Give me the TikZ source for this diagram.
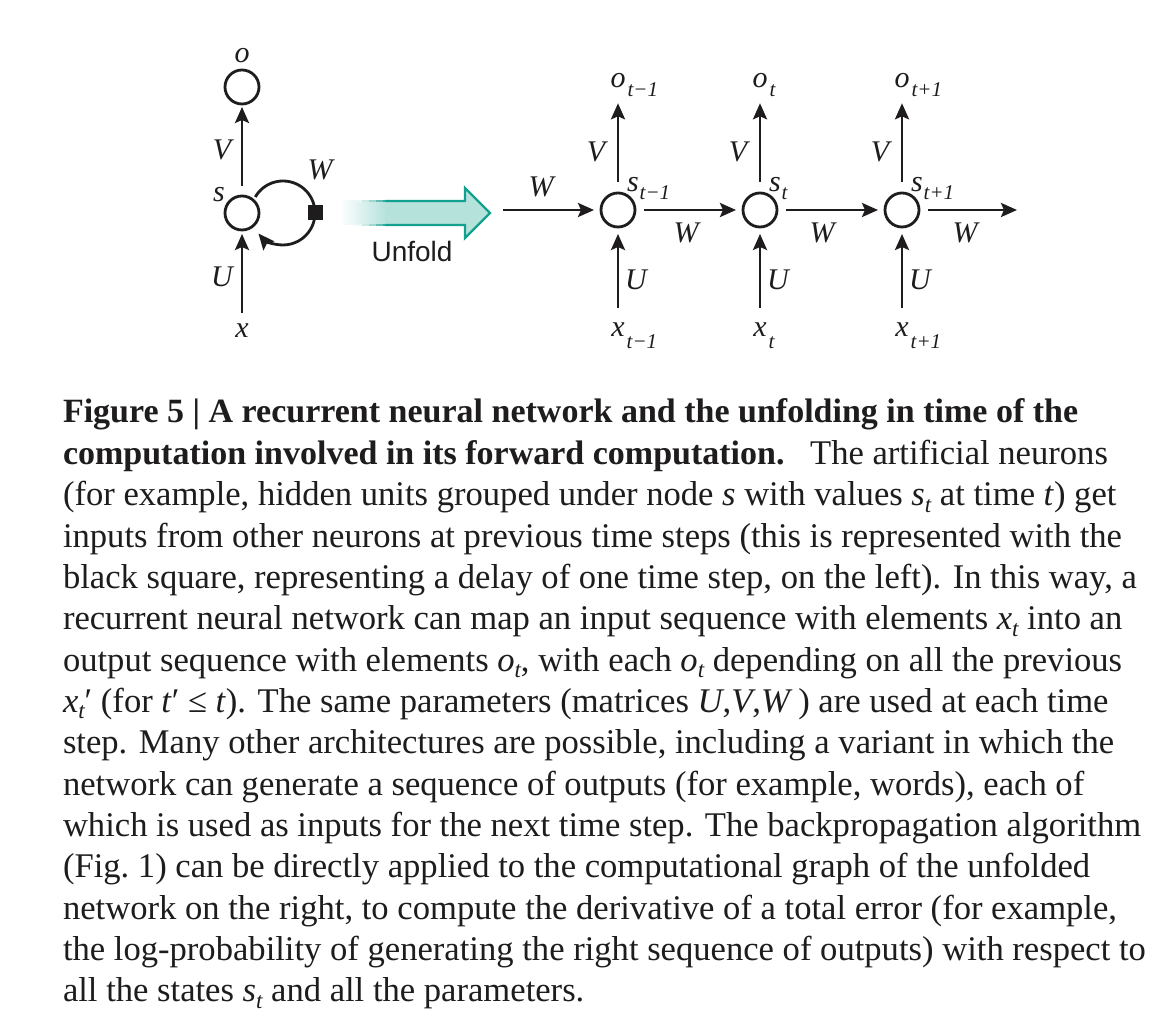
\documentclass[tikz,border=0pt]{standalone}
\usepackage{fontspec}
\setmainfont{Liberation Serif}
\newfontfamily\unfoldfont{Liberation Sans}
\usetikzlibrary{arrows.meta}
\definecolor{tealline}{RGB}{18,160,143}
\definecolor{tealfill}{RGB}{182,226,220}
\definecolor{ink}{RGB}{30,28,29}
\newcommand\csub[1]{\raisebox{-6.5pt}{\fontsize{23}{23}\selectfont\itshape #1}}
\newcommand\headfont{\fontsize{34}{41}\selectfont\bfseries}
\begin{document}
\begin{tikzpicture}[x=1pt,y=1pt,
  every node/.style={inner sep=0pt, outer sep=0pt, text=ink},
  unit/.style={circle, draw=ink, line width=2.8pt, minimum size=34pt},
  lbl/.style={font=\fontsize{30}{34}\selectfont\itshape},
  sublbl/.style={font=\fontsize{21}{24}\selectfont\itshape, anchor=base west},
  arr/.style={draw=ink, line width=2.8pt, -{Stealth[length=16pt, width=14pt, inset=3pt]}},
  capline/.style={anchor=base west, font=\fontsize{34.6}{41}\selectfont},
]
\useasboundingbox (0,0) rectangle (1176,1036);
\fill[white] (0,0) rectangle (1176,1036);

% ---------- folded network (left) ----------
\node[unit] (s) at (242,823) {};
\node[unit] (o) at (242,949) {};
\node[lbl, anchor=base] (olab) at (242,973) {o};
\node[lbl, anchor=base] (slab) at (219,834) {s};
\node[lbl, anchor=base] (Vl) at (222,876) {V};
\node[lbl, anchor=base] (Ul) at (222,749) {U};
\node[lbl, anchor=base] (xlab) at (242,698) {x};
\node[lbl, anchor=base] (Wl) at (320,856) {W};
\coordinate (lc) at (283,823);
\draw[arr, shorten <=10pt, shorten >=3pt] (s) -- (o);
\draw[arr, shorten <=11pt, shorten >=4pt] (xlab) -- (s);
\draw[arr] ([shift={(150:32)}]lc) arc[start angle=150, end angle=-140, radius=32];
\node[fill=ink, minimum size=15pt] (sq) at (315,823) {};

% ---------- Unfold arrow ----------
\shade[left color=white, right color=tealfill] (340,811) rectangle (386,835);
\fill[tealfill] (385,835) -- (465,835) -- (465,848) -- (490,823) -- (465,798) -- (465,811) -- (385,811) -- cycle;
\draw[tealline, line width=2.4pt, line join=miter] (385,835) -- (465,835) -- (465,848) -- (490,823) -- (465,798) -- (465,811) -- (385,811);
\foreach \a/\b/\p in {355/362/8, 362/369/22, 369/376/42, 376/383/68, 383/386/90}{
  \draw[tealline!\p, line width=2.4pt] (\a,835) -- (\b,835);
  \draw[tealline!\p, line width=2.4pt] (\a,811) -- (\b,811);
}
\node[font=\unfoldfont\fontsize{28}{32}\selectfont, anchor=base] (unf) at (412,774) {Unfold};

% ---------- unfolded network (right) ----------
\foreach \i/\x/\mysub in {1/618/{t−1}, 2/760/t, 3/902/{t+1}}{
  \node[unit] (s\i) at (\x,826) {};
  \node[lbl, anchor=base] (o\i) at (\x,948) {o};
  \node[sublbl] (os\i) at ([xshift=2pt, yshift=-9pt]o\i.base east) {\mysub};
  \node[lbl, anchor=base] (x\i) at (\x,699) {x};
  \node[sublbl] (xs\i) at ([xshift=2pt, yshift=-12pt]x\i.base east) {\mysub};
  \node[lbl, anchor=base west] (sl\i) at (\x+9,844) {s};
  \node[sublbl] (ss\i) at ([xshift=1pt, yshift=-8pt]sl\i.base east) {\mysub};
  \node[lbl, anchor=base] (V\i) at (\x-22,874) {V};
  \node[lbl, anchor=base] (U\i) at (\x+18,746) {U};
  \draw[arr, shorten <=11pt, shorten >=15pt] (s\i) -- (o\i);
  \draw[arr, shorten <=15pt, shorten >=7pt] (x\i) -- (s\i);
}
\coordinate (win) at (503,826);
\coordinate (wout) at (1017,826);
\draw[arr, shorten >=7pt] (win) -- (s1);
\draw[arr, shorten <=9pt, shorten >=7pt] (s1) -- (s2);
\draw[arr, shorten <=9pt, shorten >=7pt] (s2) -- (s3);
\draw[arr, shorten <=9pt] (s3) -- (wout);
\node[lbl, anchor=base] (W0) at (541,839) {W};
\node[lbl, anchor=base] (W1) at (686,793) {W};
\node[lbl, anchor=base] (W2) at (822,793) {W};
\node[lbl, anchor=base] (W3) at (965,793) {W};

% ---------- caption ----------
\node[capline] (c1) at (63,613) {\headfont Figure 5 | A recurrent neural network and the unfolding in time of the};
\node[capline] (c2) at (63,571.65) {{\headfont computation involved in its forward computation.}\hspace{14pt} The artificial neurons};
\node[capline] (c3) at (63,530.3) {(for example, hidden units grouped under node \textit{s} with values \textit{s}\csub{t} at time \textit{t}) get};
\node[capline] (c4) at (63,488.95) {inputs from other neurons at previous time steps (this is represented with the};
\node[capline] (c5) at (63,447.6) {black square, representing a delay of one time step, on the left). In this way, a};
\node[capline] (c6) at (63,406.25) {recurrent neural network can map an input sequence with elements \textit{x}\csub{t} into an};
\node[capline] (c7) at (63,364.9) {output sequence with elements \textit{o}\csub{t}, with each \textit{o}\csub{t} depending on all the previous};
\node[capline] (c8) at (63,323.55) {\textit{x}\csub{t}′ (for \textit{t}′ ≤ \textit{t}). The same parameters (matrices \textit{U},\textit{V},\textit{W}\,) are used at each time};
\node[capline] (c9) at (63,282.2) {step. Many other architectures are possible, including a variant in which the};
\node[capline] (c10) at (63,240.85) {network can generate a sequence of outputs (for example, words), each of};
\node[capline] (c11) at (63,199.5) {which is used as inputs for the next time step. The backpropagation algorithm};
\node[capline] (c12) at (63,158.15) {(Fig.~1) can be directly applied to the computational graph of the unfolded};
\node[capline] (c13) at (63,116.8) {network on the right, to compute the derivative of a total error (for example,};
\node[capline] (c14) at (63,75.45) {the log-probability of generating the right sequence of outputs) with respect to};
\node[capline] (c15) at (63,34.1) {all the states \textit{s}\csub{t} and all the parameters.};
\end{tikzpicture}
\end{document}
